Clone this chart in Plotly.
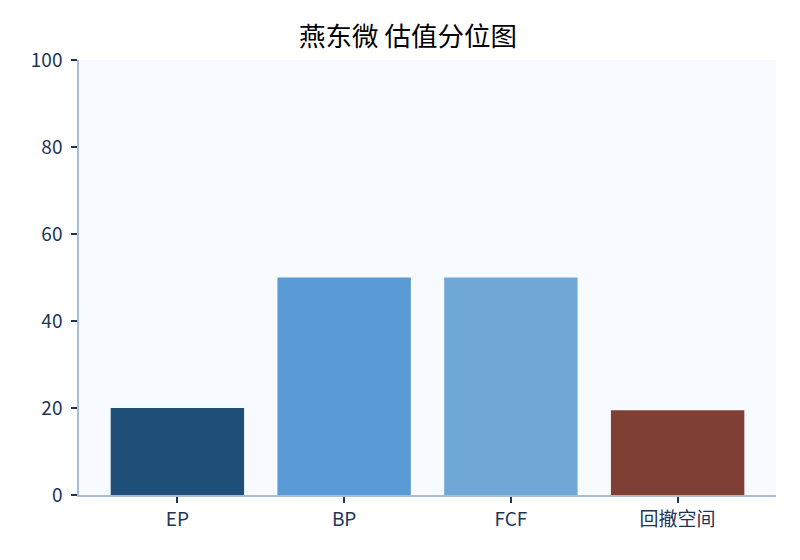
import plotly.graph_objects as go

# 估值分位数据
categories = ["EP", "BP", "FCF", "回撤空间"]
values = [20.0, 50.0, 50.0, 19.5]
bar_colors = ["#1f4e79", "#5b9bd5", "#6fa8d6", "#7f3f35"]
y_ticks = [0, 20, 40, 60, 80, 100]

axis_color = "#a7bdd6"
text_color = "#1f3558"

fig = go.Figure()
fig.add_trace(go.Bar(
    x=list(range(len(categories))),
    y=values,
    width=0.8,
    marker=dict(color=bar_colors, line=dict(width=0)),
    hoverinfo="x+y",
))

# 页面 body 有 8px 边距, 所以边距往回调一点
fig.update_layout(
    width=800,
    height=560,
    margin=dict(l=71, r=32, t=52, b=73),
    paper_bgcolor="white",
    plot_bgcolor="#f7faff",
    font=dict(family="Noto Sans CJK SC, Noto Sans, sans-serif", color=text_color, size=19),
    title=dict(
        text="燕东微 估值分位图",
        x=0.5,
        xanchor="center",
        y=0.948,
        yanchor="middle",
        font=dict(size=26.5, color="black"),
    ),
    showlegend=False,
)

fig.update_xaxes(
    tickmode="array",
    tickvals=list(range(len(categories))),
    ticktext=categories,
    range=[-0.59, 3.59],
    showgrid=False,
    zeroline=False,
    showline=True,
    linecolor=axis_color,
    linewidth=1.5,
    ticks="outside",
    ticklen=6,
    tickwidth=1.5,
    tickcolor=text_color,
)

fig.update_yaxes(
    range=[0, 100],
    tickmode="array",
    tickvals=y_ticks,
    showgrid=False,
    zeroline=False,
    showline=True,
    linecolor=axis_color,
    linewidth=1.5,
    ticks="outside",
    ticklen=6,
    tickwidth=1.5,
    tickcolor=text_color,
    ticklabelstandoff=5,
)

fig.write_html("out.html")
